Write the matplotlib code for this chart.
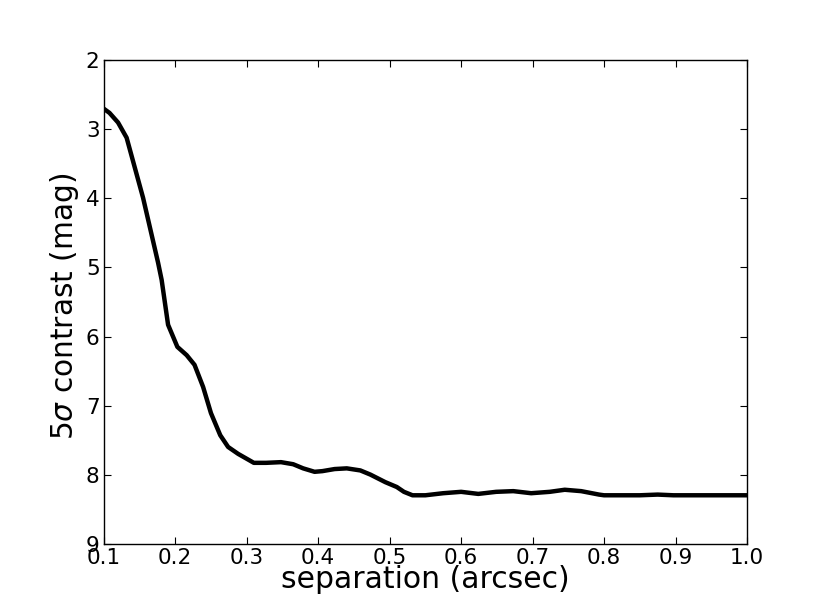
import numpy as np
import matplotlib
matplotlib.use("Agg")
import matplotlib.pyplot as plt

# separation (arcsec) and 5 sigma contrast (mag)
sep = [0.100, 0.108, 0.120, 0.132, 0.155, 0.176, 0.181, 0.190, 0.203, 0.216,
       0.227, 0.239, 0.250, 0.263, 0.274, 0.288, 0.310, 0.327, 0.348, 0.365,
       0.379, 0.395, 0.406, 0.423, 0.440, 0.459, 0.473, 0.494, 0.510, 0.520,
       0.532, 0.550, 0.575, 0.600, 0.624, 0.649, 0.673, 0.698, 0.724, 0.745,
       0.768, 0.793, 0.800, 0.850, 0.875, 0.897, 0.950, 1.000]
contrast = [2.70, 2.76, 2.90, 3.12, 3.99, 4.93, 5.18, 5.83, 6.15, 6.27,
            6.41, 6.73, 7.11, 7.43, 7.60, 7.70, 7.83, 7.83, 7.82, 7.85,
            7.91, 7.96, 7.95, 7.92, 7.91, 7.94, 8.00, 8.11, 8.18, 8.25,
            8.30, 8.30, 8.27, 8.25, 8.28, 8.25, 8.24, 8.27, 8.25, 8.22,
            8.24, 8.29, 8.30, 8.30, 8.29, 8.30, 8.30, 8.30]

xticks = [0.1, 0.2, 0.3, 0.4, 0.5, 0.6, 0.7, 0.8, 0.9, 1.0]
yticks = [2, 3, 4, 5, 6, 7, 8, 9]

fig = plt.figure(figsize=(8.3, 6.04), dpi=100)
ax = fig.add_subplot(111)
fig.subplots_adjust(left=0.125, right=0.9, bottom=0.1, top=0.9)

ax.plot(sep, contrast, color='black', linewidth=3.2)

ax.set_xlim(0.1, 1.0)
ax.set_ylim(9, 2)
ax.set_xticks(xticks)
ax.set_xticklabels(["%.1f" % t for t in xticks])
ax.set_yticks(yticks)

ax.tick_params(direction='in', top=True, right=True, length=5, width=0.8,
               labelsize=15.5, pad=3)
for sp in ax.spines.values():
    sp.set_linewidth(1.0)

ax.set_xlabel('separation (arcsec)', fontsize=21.5, labelpad=-2)
ax.set_ylabel(r'5$\sigma$ contrast (mag)', fontsize=21.3)
ax.yaxis.set_label_coords(-0.036, 0.49)

fig.savefig('out.png', dpi=100)
